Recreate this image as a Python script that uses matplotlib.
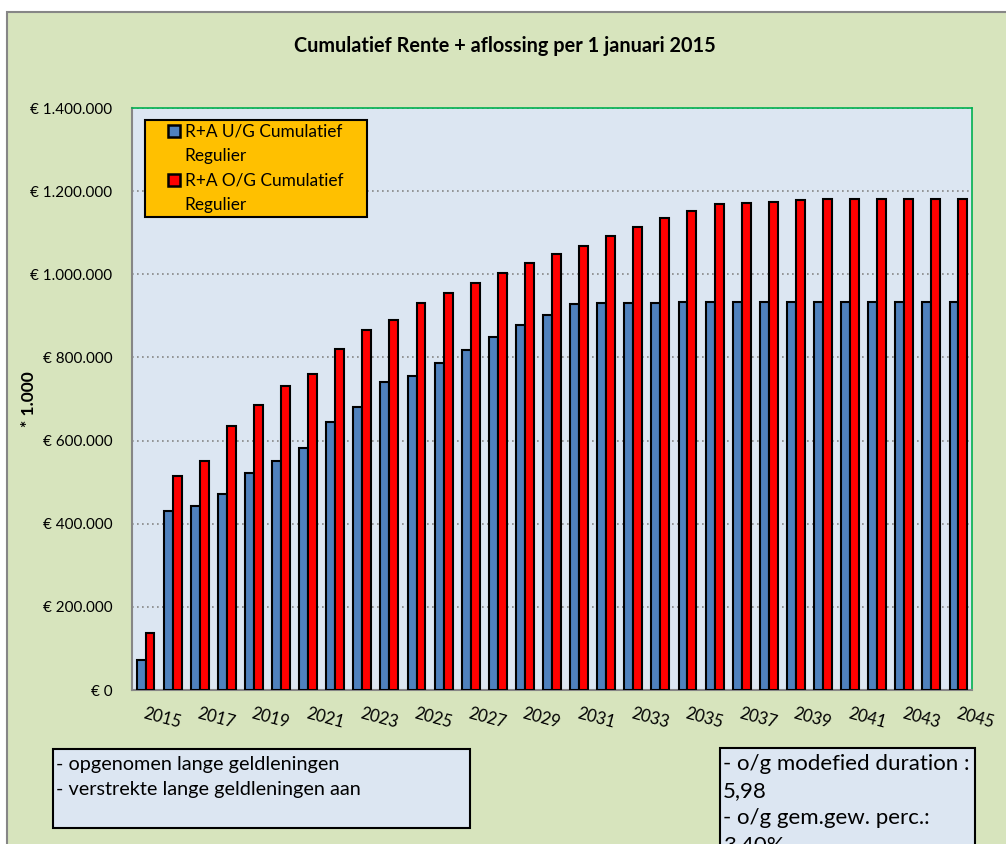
import matplotlib.pyplot as plt
import matplotlib.patches as mpatches
from matplotlib.lines import Line2D
from matplotlib.ticker import FuncFormatter
import numpy as np

plt.rcParams['font.family'] = ['Lato', 'DejaVu Sans']

years = np.arange(2015, 2046)
# cumulative interest + repayment, euro x 1000
ug_cumulatief = [73000, 430000, 442000, 472000, 522000, 552000, 582000, 645000,
                 680000, 741000, 756000, 786000, 817000, 848000, 877000, 903000,
                 928000, 930000, 931000, 932000, 933000, 934000, 934000, 933000,
                 933000, 933000, 933000, 933000, 933000, 933000, 933000]
og_cumulatief = [137000, 514000, 551000, 635000, 685000, 732000, 761000, 821000,
                 865000, 891000, 931000, 956000, 980000, 1004000, 1027000, 1049000,
                 1068000, 1092000, 1113000, 1135000, 1152000, 1169000, 1172000, 1175000,
                 1179000, 1182000, 1182000, 1182000, 1182000, 1182000, 1182000]
tick_years = years[::2]
series_names = ['R+A U/G Cumulatief', 'R+A O/G Cumulatief']
series_sub = 'Regulier'
left_box_text = '- opgenomen lange geldleningen\n- verstrekte lange geldleningen aan'
right_box_text = '- o/g modefied duration :\n5,98\n- o/g gem.gew. perc.:\n3,40%'

W, H = 1006, 844
fig = plt.figure(figsize=(W / 100, H / 100), dpi=100, facecolor='white')

# chart area background with grey frame
fig.patches.append(mpatches.Rectangle((7 / W, -0.1), 1.1, 1.1 - 12 / H, transform=fig.transFigure,
                                      facecolor='#D7E4BD', edgecolor='#868686', linewidth=1.5, zorder=-5))

ax = fig.add_axes([132 / W, 1 - 690 / H, (972 - 132) / W, (690 - 108) / H])
ax.set_zorder(1)
ax.set_facecolor('#DCE6F2')

x = np.arange(len(years))
w = 0.33
ax.bar(x - w / 2, ug_cumulatief, w, color='#4F81BD', edgecolor='black', linewidth=1.5, zorder=3)
ax.bar(x + w / 2, og_cumulatief, w, color='#FF0000', edgecolor='black', linewidth=1.5, zorder=3)

ax.set_xlim(-0.5, len(years) - 0.5)
ax.set_ylim(0, 1400000)
ax.set_yticks(np.arange(0, 1400001, 200000))
ax.yaxis.set_major_formatter(FuncFormatter(lambda v, p: '€ ' + f'{int(v):,}'.replace(',', '.')))
ax.set_xticks([list(years).index(t) for t in tick_years])
ax.set_xticklabels([str(t) for t in tick_years], rotation=-15, ha='left', rotation_mode='anchor')
ax.tick_params(axis='both', length=0)
ax.tick_params(axis='y', pad=14, labelsize=11)
ax.tick_params(axis='x', pad=11, labelsize=12)
ax.grid(axis='y', color='#868686', linestyle=(0, (1, 2)), linewidth=1.2, zorder=0)

for side in ['top', 'right']:
    ax.spines[side].set_color('#00B050')
    ax.spines[side].set_linewidth(1.2)
for side in ['left', 'bottom']:
    ax.spines[side].set_color('#868686')
    ax.spines[side].set_linewidth(1.5)

ax.set_ylabel('* 1.000', fontweight='bold', fontsize=12.5)
ax.yaxis.set_label_coords(-0.113, 0.5)

fig.text(505 / W, 1 - 46 / H, 'Cumulatief Rente + aflossing per 1 januari 2015',
         ha='center', va='center', fontsize=14.3, fontweight='bold')

# legend: marker only on the first line of each entry
def square(c):
    return Line2D([], [], linestyle='none', marker='s', markersize=8,
                  markerfacecolor=c, markeredgecolor='black', markeredgewidth=1.8)

blank = Line2D([], [], linestyle='none')
handles = [square('#4F81BD'), blank, square('#FF0000'), blank]
labels = [series_names[0], series_sub, series_names[1], series_sub]
leg = ax.legend(handles, labels, loc='upper left', bbox_to_anchor=(0.0155, 0.5, 0.264, 0.479),
                mode='expand', borderaxespad=0, fancybox=False, framealpha=1, facecolor='#FFC000',
                edgecolor='black', fontsize=12.4, handlelength=3.0, handletextpad=-0.9,
                labelspacing=0.5, borderpad=0.2)
leg.get_frame().set_linewidth(1.5)
leg.set_zorder(5)

# text boxes under the chart
fig.patches.append(mpatches.Rectangle((53 / W, 1 - 828 / H), 417 / W, 79 / H, transform=fig.transFigure,
                                      facecolor='#DCE6F2', edgecolor='black', linewidth=1.5))
fig.text(56 / W, 1 - 756 / H, left_box_text, ha='left', va='top', fontsize=14.3, linespacing=1.55)

fig.patches.append(mpatches.Rectangle((720 / W, -0.1), 255 / W, 0.1 + 96 / H, transform=fig.transFigure,
                                      facecolor='#DCE6F2', edgecolor='black', linewidth=1.5))
fig.text(723 / W, 1 - 754 / H, right_box_text, ha='left', va='top', fontsize=16, linespacing=1.43)

fig.savefig('out.png', dpi=100, facecolor=fig.get_facecolor())
